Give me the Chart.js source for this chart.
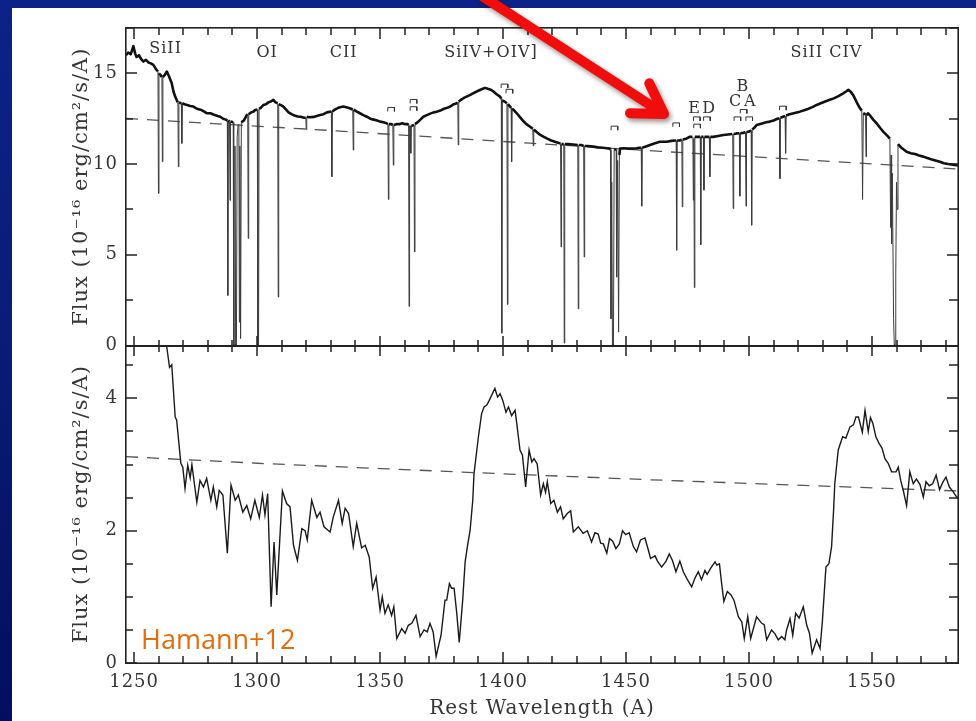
<!DOCTYPE html>
<html>
<head>
<meta charset="utf-8">
<title>Quasar spectrum</title>
<script src="https://cdn.jsdelivr.net/npm/chart.js@4.4.1/dist/chart.umd.min.js"></script>
<style>
  html, body { margin: 0; padding: 0; }
  body {
    width: 976px; height: 721px; overflow: hidden;
    background: linear-gradient(180deg, #0c2288 0%, #0a1c78 45%, #030e5e 100%);
  }
  #wrap { position: relative; width: 976px; height: 721px; }
</style>
</head>
<body>
<div id="wrap"><canvas id="spectrumChart"></canvas></div>
<script>
// Rest wavelength range (A)
const waveMin = 1246.7;
const waveMax = 1585;

// High resolution spectrum, [wavelength, flux]
const topSpectrum = [
  [1246.7,16.0],[1247.6,16.15],[1248.6,16.05],[1249.7,16.5],[1250.4,16.1],[1251.0,15.9],[1252.0,16.0],[1252.8,15.8],
  [1253.8,15.65],[1254.8,15.75],[1255.8,15.6],[1256.8,15.55],[1257.8,15.47],[1258.6,15.3],[1259.1,15.2],
  [1259.7,15.1],[1259.9,8.38],[1260.1,15.0],[1260.8,14.9],
  [1261.3,14.8],[1261.5,10.13],[1261.7,14.8],
  [1262.4,14.9],[1263.3,15.1],[1264.3,14.8],[1265.3,14.46],[1266.0,14.0],[1266.7,13.72],[1267.4,13.5],
  [1267.8,13.4],[1268.0,9.85],[1268.2,13.4],
  [1269.2,13.35],[1269.4,11.14],[1269.6,13.35],
  [1270.5,13.3],[1271.6,13.25],[1272.8,13.2],[1274.1,13.17],[1275.5,13.05],[1277.0,13.0],[1278.4,12.9],[1279.6,12.8],
  [1281.0,12.8],[1282.5,12.72],[1284.0,12.65],[1285.0,12.61],[1286.2,12.5],[1287.3,12.45],
  [1287.9,12.4],[1288.1,2.76],[1288.3,12.4],
  [1288.8,12.35],[1289.0,8.0],[1289.2,12.34],
  [1290.3,12.3],[1290.5,0],[1290.8,0],[1291.0,11.0],[1291.3,0],[1291.6,0],[1291.9,11.5],[1292.3,12.2],
  [1292.6,12.2],[1292.8,1.29],[1293.0,11.0],[1293.3,0.38],[1293.6,12.3],
  [1294.6,12.4],[1295.8,12.7],
  [1296.2,12.75],[1296.4,5.9],[1296.6,12.75],
  [1297.6,12.85],[1298.6,12.9],[1299.2,12.98],[1300.1,13.0],
  [1300.3,0],[1300.6,0],[1300.8,13.05],
  [1301.5,13.1],[1302.6,13.26],[1303.6,13.3],[1304.6,13.4],[1305.6,13.45],[1306.6,13.54],[1307.5,13.4],
  [1308.4,13.35],[1308.6,2.67],[1308.8,13.3],
  [1309.7,13.25],[1310.7,13.17],[1311.8,13.0],[1312.8,12.85],[1314.0,12.75],[1315.2,12.68],[1316.6,12.62],
  [1318.0,12.6],[1319.2,12.55],
  [1319.8,12.55],[1320.0,11.9],[1320.2,12.6],
  [1321.5,12.58],[1323.0,12.6],[1324.3,12.65],[1325.6,12.7],[1327.0,12.75],[1328.4,12.85],
  [1330.2,12.9],[1330.4,9.3],[1330.6,12.9],
  [1331.6,13.0],[1333.0,13.1],[1335.1,13.17],[1337.0,13.1],[1338.2,13.05],
  [1338.9,13.0],[1339.1,10.77],[1339.3,13.0],
  [1340.4,12.9],[1341.8,12.8],[1343.2,12.7],[1344.6,12.61],[1346.0,12.5],[1347.4,12.45],[1348.8,12.4],
  [1350.0,12.34],[1351.4,12.3],[1352.6,12.25],
  [1353.2,12.2],[1353.4,8.05],[1353.6,12.2],
  [1354.6,12.2],
  [1355.2,12.15],[1355.4,9.94],[1355.6,12.15],
  [1356.6,12.2],[1357.8,12.2],[1359.0,12.25],[1360.2,12.2],[1361.2,12.2],
  [1361.6,12.15],[1361.8,2.15],[1362.0,12.1],[1362.3,12.1],[1362.5,10.6],[1362.7,12.1],
  [1363.8,12.15],[1364.0,5.16],[1364.2,12.2],
  [1365.2,12.3],[1366.4,12.45],[1367.6,12.61],[1369.0,12.7],[1370.4,12.78],[1371.8,12.85],[1373.0,12.89],
  [1374.5,12.95],[1376.0,13.05],[1377.3,13.1],[1378.5,13.17],[1380.0,13.3],[1381.2,13.35],
  [1381.6,13.4],[1381.8,11.05],[1382.0,13.45],
  [1383.0,13.55],[1383.9,13.63],[1385.2,13.72],[1386.5,13.8],[1387.8,13.9],[1389.3,14.0],[1390.6,14.08],
  [1391.8,14.15],[1392.7,14.2],[1393.8,14.15],[1395.0,14.1],[1396.1,14.0],[1397.4,13.85],[1398.8,13.72],
  [1399.3,13.6],[1399.5,0.68],[1399.7,13.5],
  [1400.6,13.45],
  [1401.6,13.35],[1401.8,2.26],[1402.0,13.3],
  [1403.3,13.1],[1403.5,10.13],[1403.7,13.05],
  [1404.6,12.95],[1405.6,12.8],[1406.8,12.6],[1408.0,12.4],[1409.5,12.2],[1411.0,12.06],
  [1412.1,11.95],[1412.3,11.0],[1412.5,11.9],
  [1413.8,11.75],[1415.0,11.62],[1416.4,11.51],[1418.0,11.4],[1419.6,11.3],[1421.4,11.22],[1423.0,11.15],
  [1423.4,11.15],[1423.6,5.43],[1423.8,11.1],[1424.7,11.1],[1424.9,0.13],[1425.1,11.1],
  [1426.5,11.1],[1428.5,11.08],
  [1430.4,11.05],[1430.6,2.02],[1430.8,11.05],
  [1431.8,11.05],
  [1432.8,11.0],[1433.0,4.88],[1433.2,11.0],
  [1434.5,11.0],[1436.7,10.96],[1438.5,10.92],[1440.5,10.9],[1442.2,10.87],[1443.4,10.85],
  [1443.7,10.8],[1443.9,1.47],[1444.2,9.0],[1444.5,0],[1444.9,0],[1445.2,10.8],[1446.0,10.8],[1446.2,3.77],
  [1446.6,10.2],[1447.0,0.74],[1447.3,10.5],[1447.6,10.85],
  [1449.0,10.87],[1451.0,10.85],[1452.8,10.86],[1454.3,10.87],[1455.5,10.9],
  [1456.2,10.9],[1456.4,7.68],[1456.6,10.9],
  [1457.8,10.95],[1459.8,11.05],[1461.8,11.15],[1463.8,11.23],[1466.5,11.23],[1468.5,11.28],[1470.2,11.3],
  [1470.4,11.3],[1470.6,5.25],[1470.8,11.3],
  [1471.8,11.3],
  [1472.7,11.35],[1472.9,7.64],[1473.1,11.35],
  [1474.5,11.4],[1476.0,11.51],[1477.0,11.5],
  [1477.2,11.5],[1477.4,8.01],[1477.6,11.4],[1477.8,3.19],[1478.0,11.5],
  [1479.0,11.5],
  [1480.2,11.5],[1480.4,5.56],[1480.6,11.5],
  [1481.5,11.5],[1481.7,8.56],[1481.9,11.5],
  [1482.9,11.5],
  [1483.9,11.5],[1484.1,9.3],[1484.3,11.5],
  [1485.5,11.5],[1487.5,11.55],[1489.6,11.6],[1491.5,11.63],[1493.2,11.66],
  [1493.4,11.66],[1493.6,7.55],[1493.8,11.66],
  [1495.0,11.69],
  [1496.1,11.7],[1496.3,8.23],[1496.5,11.7],
  [1497.6,11.72],
  [1498.6,11.75],[1498.8,7.68],[1499.0,11.75],
  [1500.0,11.79],
  [1500.9,11.85],[1501.1,6.63],[1501.3,11.9],
  [1502.2,12.0],[1503.1,12.15],[1505.0,12.22],[1507.0,12.3],[1508.5,12.34],[1510.0,12.4],[1511.6,12.5],
  [1512.4,12.52],[1512.6,9.2],[1512.8,12.55],
  [1513.9,12.61],
  [1514.7,12.65],[1514.9,10.59],[1515.1,12.68],
  [1516.5,12.75],[1518.6,12.82],[1520.7,12.89],[1522.5,12.97],[1524.2,13.05],[1526.0,13.15],[1527.5,13.26],
  [1529.2,13.35],[1531.0,13.45],[1532.9,13.54],[1534.5,13.62],[1536.4,13.75],[1538.3,13.9],[1539.5,14.0],
  [1540.4,14.09],[1541.4,13.98],[1542.4,13.8],[1543.3,13.55],[1544.2,13.3],[1545.1,13.08],
  [1545.9,12.95],[1546.2,8.05],[1546.5,12.8],[1547.4,12.75],[1547.6,10.4],[1547.8,12.7],
  [1548.4,12.8],[1549.1,12.7],[1550.5,12.45],[1551.9,12.25],[1553.3,12.0],[1554.6,11.79],[1555.6,11.65],
  [1556.6,11.51],[1557.3,11.4],
  [1557.6,6.5],[1557.8,10.5],[1558.0,5.62],[1558.3,9.5],[1558.8,1.5],[1559.1,0],[1559.4,0],[1559.7,4.0],
  [1560.0,9.0],[1560.3,7.5],[1560.6,11.1],
  [1562.0,10.9],[1564.1,10.68],[1565.8,10.6],[1567.5,10.55],[1569.2,10.47],[1570.9,10.41],[1572.5,10.33],
  [1574.0,10.27],[1575.8,10.2],[1577.6,10.13],[1579.3,10.05],[1581.0,10.0],[1582.8,9.97],[1584.4,9.94],[1585.0,9.92]
];

// Continuum fit under the high resolution spectrum
const topContinuum = [[1246.7,12.52],[1330,11.85],[1411,11.15],[1464,10.70],[1585,9.73]];

// Low resolution spectrum, [wavelength, flux]
const bottomSpectrum = [
  [1263.2,4.80],[1264.4,4.47],[1265.3,4.51],[1266.7,3.72],[1267.3,3.67],[1269.0,3.02],[1269.8,2.96],[1270.7,2.64],
  [1271.8,2.99],[1272.8,2.80],[1273.5,3.00],[1275.5,2.43],[1276.8,2.76],[1278.2,2.66],[1279.5,2.79],[1281.2,2.46],
  [1282.2,2.66],[1283.6,2.36],[1284.6,2.61],[1286.1,2.54],[1287.9,1.66],[1289.4,2.69],[1291.1,2.46],[1292.4,2.54],
  [1294.2,2.28],[1295.8,2.38],[1297.4,2.18],[1299.1,2.46],[1300.9,2.20],[1302.2,2.54],[1303.2,2.24],[1304.3,2.56],
  [1305.7,0.85],[1306.9,1.83],[1308.0,1.03],[1310.3,2.60],[1312.0,2.41],[1313.4,2.36],[1314.8,1.78],[1316.4,1.55],
  [1318.2,2.03],[1319.5,2.00],[1320.4,1.86],[1322.2,2.46],[1324.3,2.20],[1325.6,2.28],[1327.2,2.06],[1329.7,1.98],
  [1331.0,2.21],[1333.1,2.46],[1334.6,2.11],[1335.8,2.34],[1337.2,2.26],[1339.1,1.76],[1340.5,2.11],[1342.5,1.74],
  [1344.0,1.78],[1345.6,1.60],[1347.0,1.13],[1348.4,1.30],[1350.0,0.80],[1350.9,1.00],[1352.0,0.75],[1353.3,0.88],
  [1354.7,0.72],[1355.6,0.85],[1356.8,0.37],[1358.8,0.52],[1360.2,0.45],[1361.5,0.57],[1362.9,0.60],[1364.6,0.72],
  [1366.3,0.40],[1367.9,0.50],[1369.2,0.47],[1370.3,0.60],[1371.6,0.47],[1372.8,0.10],[1374.8,0.42],[1376.4,0.95],
  [1377.1,0.95],[1378.2,1.20],[1379.1,1.13],[1380.1,1.13],[1381.2,0.75],[1382.2,0.31],[1383.6,0.95],[1384.6,1.53],
  [1385.5,1.76],[1386.6,2.00],[1387.7,2.46],[1388.2,2.86],[1390.0,3.42],[1391.3,3.77],[1392.3,3.87],[1393.4,3.90],
  [1394.4,3.97],[1395.4,4.05],[1396.7,4.15],[1397.8,4.02],[1398.8,4.07],[1399.9,3.97],[1401.2,3.79],[1402.2,3.87],
  [1403.5,3.74],[1404.9,3.82],[1405.6,3.62],[1406.9,3.22],[1407.9,3.14],[1409.2,2.66],[1410.6,3.22],[1411.7,3.04],
  [1412.6,3.09],[1413.9,3.01],[1415.3,2.54],[1416.4,2.71],[1417.3,2.58],[1418.0,2.74],[1419.4,2.41],[1420.7,2.46],
  [1422.1,2.28],[1423.4,2.36],[1424.5,2.18],[1426.1,2.26],[1427.5,2.30],[1428.6,1.98],[1430.6,2.06],[1432.6,1.96],
  [1434.3,2.00],[1436.0,1.83],[1437.4,1.97],[1438.7,1.95],[1439.7,1.81],[1440.8,1.80],[1442.2,1.66],[1443.3,1.88],
  [1444.6,1.84],[1445.9,1.73],[1447.3,1.80],[1448.6,2.00],[1449.9,1.94],[1451.3,1.97],[1453.0,1.76],[1454.3,1.68],
  [1455.9,1.86],[1457.7,1.89],[1459.0,1.72],[1460.0,1.58],[1461.8,1.62],[1462.8,1.54],[1464.5,1.45],[1466.3,1.54],
  [1467.6,1.65],[1468.9,1.55],[1470.3,1.38],[1471.9,1.54],[1473.3,1.38],[1474.7,1.28],[1476.7,1.15],[1478.0,1.28],
  [1479.4,1.38],[1480.7,1.26],[1482.1,1.40],[1483.0,1.34],[1484.4,1.43],[1486.2,1.53],[1486.9,1.48],[1488.0,1.50],
  [1488.9,1.20],[1489.8,0.93],[1491.2,1.08],[1492.7,1.03],[1493.9,0.95],[1495.7,0.70],[1497.1,0.62],[1498.1,0.37],
  [1499.5,0.70],[1500.7,0.37],[1503.1,0.70],[1505.2,0.60],[1506.2,0.58],[1507.2,0.35],[1509.2,0.50],[1510.6,0.44],
  [1511.9,0.35],[1513.3,0.40],[1514.6,0.35],[1515.3,0.50],[1516.7,0.67],[1517.8,0.42],[1519.0,0.75],[1520.4,0.68],
  [1522.1,0.85],[1523.5,0.57],[1524.6,0.45],[1525.7,0.15],[1527.5,0.35],[1528.9,0.22],[1529.8,0.60],[1531.3,1.45],
  [1532.5,1.50],[1533.6,1.76],[1534.4,2.30],[1534.9,2.71],[1536.3,3.22],[1538.1,3.42],[1539.4,3.40],[1541.1,3.57],
  [1542.5,3.60],[1543.5,3.72],[1544.5,3.72],[1546.1,3.49],[1547.2,3.82],[1548.5,3.50],[1549.4,3.71],[1550.4,3.62],
  [1551.6,3.42],[1552.9,3.32],[1554.1,3.25],[1555.3,3.09],[1556.6,3.02],[1558.0,2.89],[1559.8,2.89],[1560.7,2.96],
  [1561.7,2.76],[1562.8,2.60],[1564.1,2.38],[1565.4,2.89],[1566.8,2.71],[1568.1,2.78],[1569.5,2.70],[1570.9,2.51],
  [1572.0,2.74],[1573.3,2.68],[1574.7,2.71],[1576.1,2.84],[1577.5,2.62],[1578.8,2.73],[1580.1,2.81],[1581.5,2.66],
  [1583.0,2.59],[1584.4,2.51],[1585.0,2.50]
];

// Continuum fit under the low resolution spectrum
const bottomContinuum = [[1246.7,3.12],[1300,3.02],[1350,2.94],[1400,2.86],[1460,2.77],[1585,2.60]];

// Absorber markers: [wavelength, top of bracket]
const brackets = [
  [1354.5,13.12],[1363.6,13.56],[1363.6,13.16],[1400.6,14.41],[1402.6,14.12],[1445.3,12.09],
  [1470.4,12.27],[1478.8,12.60],[1478.9,12.20],[1482.9,12.60],[1495.3,12.60],[1497.8,13.01],
  [1500.1,12.60],[1513.8,13.19]
];

// Emission line names: [text, wavelength, baseline flux]
const lineIds = [
  ['SiII', 1262.8, 16.1], ['OI', 1304.1, 15.88], ['CII', 1335.2, 15.88],
  ['SiIV+OIV]', 1395.1, 15.92], ['SiII CIV', 1531.5, 15.88]
];

// Absorber component letters: [text, wavelength, baseline flux]
const componentIds = [
  ['E', 1477.9, 12.81], ['D', 1483.8, 12.81], ['C', 1494.6, 13.19], ['A', 1500.5, 13.19], ['B', 1497.5, 14.04]
];

// Axis tick spacing: minor step, major step
const waveTicks = [10, 50];
const topFluxTicks = [2.5, 5];
const bottomFluxTicks = [0.5, 2];

const serif = "'DejaVu Serif', 'Liberation Serif', serif";
const ink = '#363636';

// each bracket is a small open-bottom box
const bracketPoints = [];
brackets.forEach(([w, top]) => {
  bracketPoints.push(
    { x: w - 1.35, y: top - 0.22 }, { x: w - 1.35, y: top },
    { x: w + 1.35, y: top }, { x: w + 1.35, y: top - 0.22 },
    { x: w + 1.35, y: null }
  );
});

// steep segments are the narrow absorption lines, drawn thin
const deep = s => Math.abs(s.p1.parsed.y - s.p0.parsed.y) > 0.6;

const isMajor = (v, step) => Math.abs(v / step - Math.round(v / step)) < 1e-6;

// white page and wide letter spacing for the serif axis text
const page = {
  id: 'page',
  beforeUpdate(chart) { chart.ctx.letterSpacing = '1px'; },
  beforeLayout(chart) { chart.ctx.letterSpacing = '1px'; },
  beforeDraw(chart) {
    const ctx = chart.ctx;
    ctx.letterSpacing = '1px';
    ctx.save();
    ctx.fillStyle = '#ffffff';
    ctx.fillRect(12, 8, chart.width - 12, chart.height - 8);
    ctx.restore();
  }
};

// box frame with inward ticks on all sides and on the panel divider
const boxFrame = {
  id: 'boxFrame',
  afterDraw(chart) {
    const { ctx, chartArea: a, scales } = chart;
    const x = scales.x, yTop = scales.yTop, yBot = scales.yBot;
    const mid = Math.round(yTop.getPixelForValue(0));
    const L = Math.round(a.left), R = Math.round(a.right);
    const T = Math.round(a.top), B = Math.round(a.bottom);
    ctx.save();
    ctx.fillStyle = '#222';
    // frame
    ctx.fillRect(L - 1, T - 1, R - L + 2, 1.6);
    ctx.fillRect(L - 1, B - 0.6, R - L + 2, 1.6);
    ctx.fillRect(L - 1, T - 1, 1.6, B - T + 2);
    ctx.fillRect(R - 0.6, T - 1, 1.6, B - T + 2);
    ctx.fillRect(L, mid - 1, R - L, 2);
    // wavelength ticks
    for (let w = Math.ceil(waveMin / waveTicks[0]) * waveTicks[0]; w <= waveMax; w += waveTicks[0]) {
      const px = Math.round(x.getPixelForValue(w)) - 0.75;
      const major = isMajor(w, waveTicks[1]);
      const len = major ? 11 : 7;
      const half = major ? 10 : 6;
      ctx.fillRect(px, T, 1.5, len);
      ctx.fillRect(px, mid - half, 1.5, half * 2);
      ctx.fillRect(px, B - len, 1.5, len);
    }
    // flux ticks, left and right
    [[yTop, topFluxTicks, 17.5], [yBot, bottomFluxTicks, 4.8]].forEach(([s, steps, top]) => {
      for (let i = 0; i * steps[0] <= top + 1e-9; i++) {
        const v = i * steps[0];
        const py = Math.round(s.getPixelForValue(v)) - 0.75;
        const major = isMajor(v, steps[1]);
        ctx.fillRect(L, py, major ? 11 : 7, 1.5);
        const r = major ? 11 : 9;
        ctx.fillRect(R - r, py, r, 1.5);
      }
    });
    ctx.restore();
  }
};

// line names, absorber letters, credit and pointer arrow
const notes = {
  id: 'notes',
  afterDraw(chart) {
    const { ctx, chartArea: a, scales } = chart;
    const x = scales.x, yTop = scales.yTop;
    ctx.save();
    ctx.fillStyle = '#333';
    ctx.textAlign = 'center';
    ctx.textBaseline = 'alphabetic';
    ctx.letterSpacing = '1px';
    ctx.font = '16px ' + serif;
    lineIds.concat(componentIds).forEach(([txt, w, f]) => {
      ctx.fillText(txt, x.getPixelForValue(w), yTop.getPixelForValue(f));
    });

    ctx.letterSpacing = '0px';
    ctx.textAlign = 'left';
    ctx.fillStyle = '#e46c0a';
    ctx.font = "27px 'Open Sans', sans-serif";
    ctx.fillText('Hamann+12', a.left + 15, a.bottom - 14);

    const tail = { x: 482, y: -4 }, tip = { x: 664, y: 114 };
    const ang = Math.atan2(tip.y - tail.y, tip.x - tail.x);
    const head = 34, spread = 0.55;
    ctx.strokeStyle = '#f20d0d';
    ctx.lineWidth = 10;
    ctx.lineCap = 'round';
    ctx.lineJoin = 'round';
    ctx.shadowColor = 'rgba(40, 0, 0, 0.45)';
    ctx.shadowBlur = 5;
    ctx.shadowOffsetX = 2;
    ctx.shadowOffsetY = 3;
    ctx.beginPath();
    ctx.moveTo(tail.x, tail.y);
    ctx.lineTo(tip.x - 3 * Math.cos(ang), tip.y - 3 * Math.sin(ang));
    ctx.moveTo(tip.x - head * Math.cos(ang - spread), tip.y - head * Math.sin(ang - spread));
    ctx.lineTo(tip.x, tip.y);
    ctx.lineTo(tip.x - head * Math.cos(ang + spread), tip.y - head * Math.sin(ang + spread));
    ctx.stroke();
    ctx.restore();
  }
};

const tickFont = { family: serif, size: 18 };
const fluxTitle = 'Flux (10⁻¹⁶ erg/cm²/s/A)';

new Chart(document.getElementById('spectrumChart'), {
  type: 'line',
  data: {
    datasets: [
      {
        label: 'Spectrum',
        data: topSpectrum,
        yAxisID: 'yTop',
        borderColor: '#111',
        borderWidth: 2.6,
        borderJoinStyle: 'round',
        pointRadius: 0,
        segment: {
          borderWidth: s => deep(s) ? 1 : 2.6,
          borderColor: s => deep(s) ? '#3c3c3c' : '#111'
        }
      },
      {
        label: 'Continuum',
        data: topContinuum,
        yAxisID: 'yTop',
        borderColor: '#555',
        borderWidth: 1.3,
        borderDash: [12, 9],
        pointRadius: 0
      },
      {
        label: 'Absorbers',
        data: bracketPoints,
        yAxisID: 'yTop',
        borderColor: '#333',
        borderWidth: 1,
        pointRadius: 0,
        spanGaps: false
      },
      {
        label: 'Spectrum',
        data: bottomSpectrum,
        yAxisID: 'yBot',
        borderColor: '#1a1a1a',
        borderWidth: 1.4,
        pointRadius: 0
      },
      {
        label: 'Continuum',
        data: bottomContinuum,
        yAxisID: 'yBot',
        borderColor: '#555',
        borderWidth: 1.3,
        borderDash: [12, 9],
        pointRadius: 0
      }
    ]
  },
  options: {
    responsive: true,
    maintainAspectRatio: false,
    animation: false,
    layout: { padding: { left: 12, top: 28, right: 18, bottom: 0 } },
    plugins: {
      legend: { display: false },
      tooltip: { enabled: false }
    },
    scales: {
      x: {
        type: 'linear',
        min: waveMin,
        max: waveMax,
        grid: { display: false, drawTicks: false },
        border: { display: false },
        ticks: {
          stepSize: waveTicks[0],
          includeBounds: false,
          autoSkip: false,
          maxRotation: 0,
          padding: 9,
          color: ink,
          font: tickFont,
          callback: v => (isMajor(v, waveTicks[1]) ? v : '')
        },
        title: {
          display: true,
          text: 'Rest Wavelength (A)',
          color: ink,
          font: { family: serif, size: 20 },
          padding: { top: 0, bottom: 0 }
        },
        afterFit: s => { s.height = 58; }
      },
      yBot: {
        type: 'linear',
        position: 'left',
        stack: 'flux',
        stackWeight: 1,
        min: 0,
        max: 4.8,
        grid: { display: false, drawTicks: false },
        border: { display: false },
        ticks: {
          stepSize: bottomFluxTicks[0],
          includeBounds: false,
          autoSkip: false,
          padding: 8,
          color: ink,
          font: tickFont,
          callback: v => (isMajor(v, bottomFluxTicks[1]) ? v : '')
        },
        title: { display: true, text: fluxTitle, color: ink, font: { family: serif, size: 21 }, padding: { top: 57, bottom: 0 } },
        afterFit: s => { s.width = 114; }
      },
      yTop: {
        type: 'linear',
        position: 'left',
        stack: 'flux',
        stackWeight: 1,
        min: 0,
        max: 17.5,
        grid: { display: false, drawTicks: false },
        border: { display: false },
        ticks: {
          stepSize: topFluxTicks[0],
          includeBounds: false,
          autoSkip: false,
          padding: 8,
          color: ink,
          font: tickFont,
          callback: v => (isMajor(v, topFluxTicks[1]) ? v : '')
        },
        title: { display: true, text: fluxTitle, color: ink, font: { family: serif, size: 21 }, padding: { top: 57, bottom: 0 } },
        afterFit: s => { s.width = 114; }
      }
    }
  },
  plugins: [page, boxFrame, notes]
});
</script>
</body>
</html>
